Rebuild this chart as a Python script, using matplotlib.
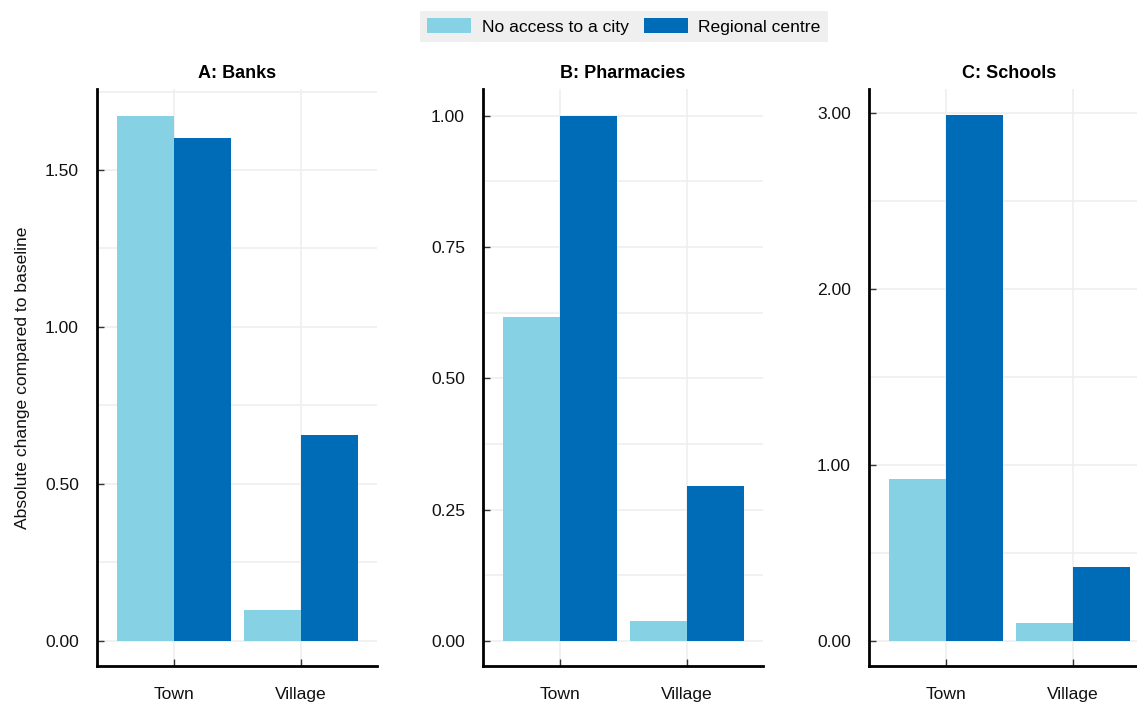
import numpy as np
import matplotlib
matplotlib.use("Agg")
import matplotlib.pyplot as plt
from matplotlib.patches import Patch
from matplotlib.ticker import MultipleLocator, FormatStrFormatter
from matplotlib import font_manager

names = {f.name for f in font_manager.fontManager.ttflist}
fam = "Liberation Sans Narrow" if "Liberation Sans Narrow" in names else "Liberation Sans"
narrow = fam == "Liberation Sans Narrow"
plt.rcParams["font.family"] = [fam, "DejaVu Sans"]

categories = ["Town", "Village"]
series = ["No access to a city", "Regional centre"]
colors = ["#86d1e4", "#006bb6"]

titles = ["A: Banks", "B: Pharmacies", "C: Schools"]
banks = [[1.672, 0.099], [1.602, 0.656]]
pharmacies = [[0.617, 0.038], [1.0, 0.295]]
schools = [[0.92, 0.10], [2.99, 0.42]]
panels = [banks, pharmacies, schools]

ylims = [(-0.08, 1.758), (-0.048, 1.051), (-0.142, 3.136)]
major = [0.5, 0.25, 1.0]

fs = 14 if narrow else 12.6

fig = plt.figure(figsize=(11.37, 7.06), dpi=100)
lefts = [97, 483, 869]
x = np.arange(len(categories))
w = 0.45

for i, (left, data) in enumerate(zip(lefts, panels)):
    ax = fig.add_axes([left / 1137, 40 / 706, 280 / 1137, 577 / 706])
    for j, vals in enumerate(data):
        ax.bar(x + (j - 0.5) * w, vals, width=w, color=colors[j], zorder=3)
    ax.set_xlim(-0.606, 1.6)
    ax.set_ylim(*ylims[i])
    ax.yaxis.set_major_locator(MultipleLocator(major[i]))
    ax.yaxis.set_minor_locator(MultipleLocator(major[i] / 2))
    ax.yaxis.set_major_formatter(FormatStrFormatter("%.2f"))
    ax.set_xticks(x)
    ax.set_xticklabels(categories)
    ax.grid(True, which="both", axis="y", color="#efefef", lw=1.2, zorder=0)
    ax.grid(True, axis="x", color="#efefef", lw=1.2, zorder=0)
    ax.tick_params(which="major", direction="in", length=5, width=1, color="#333333",
                   labelsize=fs, labelcolor="#111111")
    ax.tick_params(axis="y", pad=13)
    ax.tick_params(which="minor", left=False)
    ax.tick_params(axis="x", pad=15)
    for s in ["top", "right"]:
        ax.spines[s].set_visible(False)
    for s in ["left", "bottom"]:
        ax.spines[s].set_linewidth(2)
        ax.spines[s].set_color("black")
    ax.set_title(titles[i], fontsize=13, fontweight="bold", pad=8)
    if i == 0:
        ax.set_ylabel("Absolute change compared to baseline", fontsize=fs,
                      labelpad=11, color="#111111")

handles = [Patch(facecolor=c, edgecolor="none") for c in colors]
leg = fig.legend(handles, series, loc="center", bbox_to_anchor=(624 / 1137, 1 - 26.5 / 706),
                 ncol=2, fontsize=fs, frameon=True, fancybox=False, handlelength=2.5,
                 handleheight=0.9, columnspacing=0.9, handletextpad=0.6,
                 borderpad=0.4, borderaxespad=0)
leg.get_frame().set_facecolor("#ebebeb")
leg.get_frame().set_edgecolor("none")

fig.savefig("out.png", dpi=100)
